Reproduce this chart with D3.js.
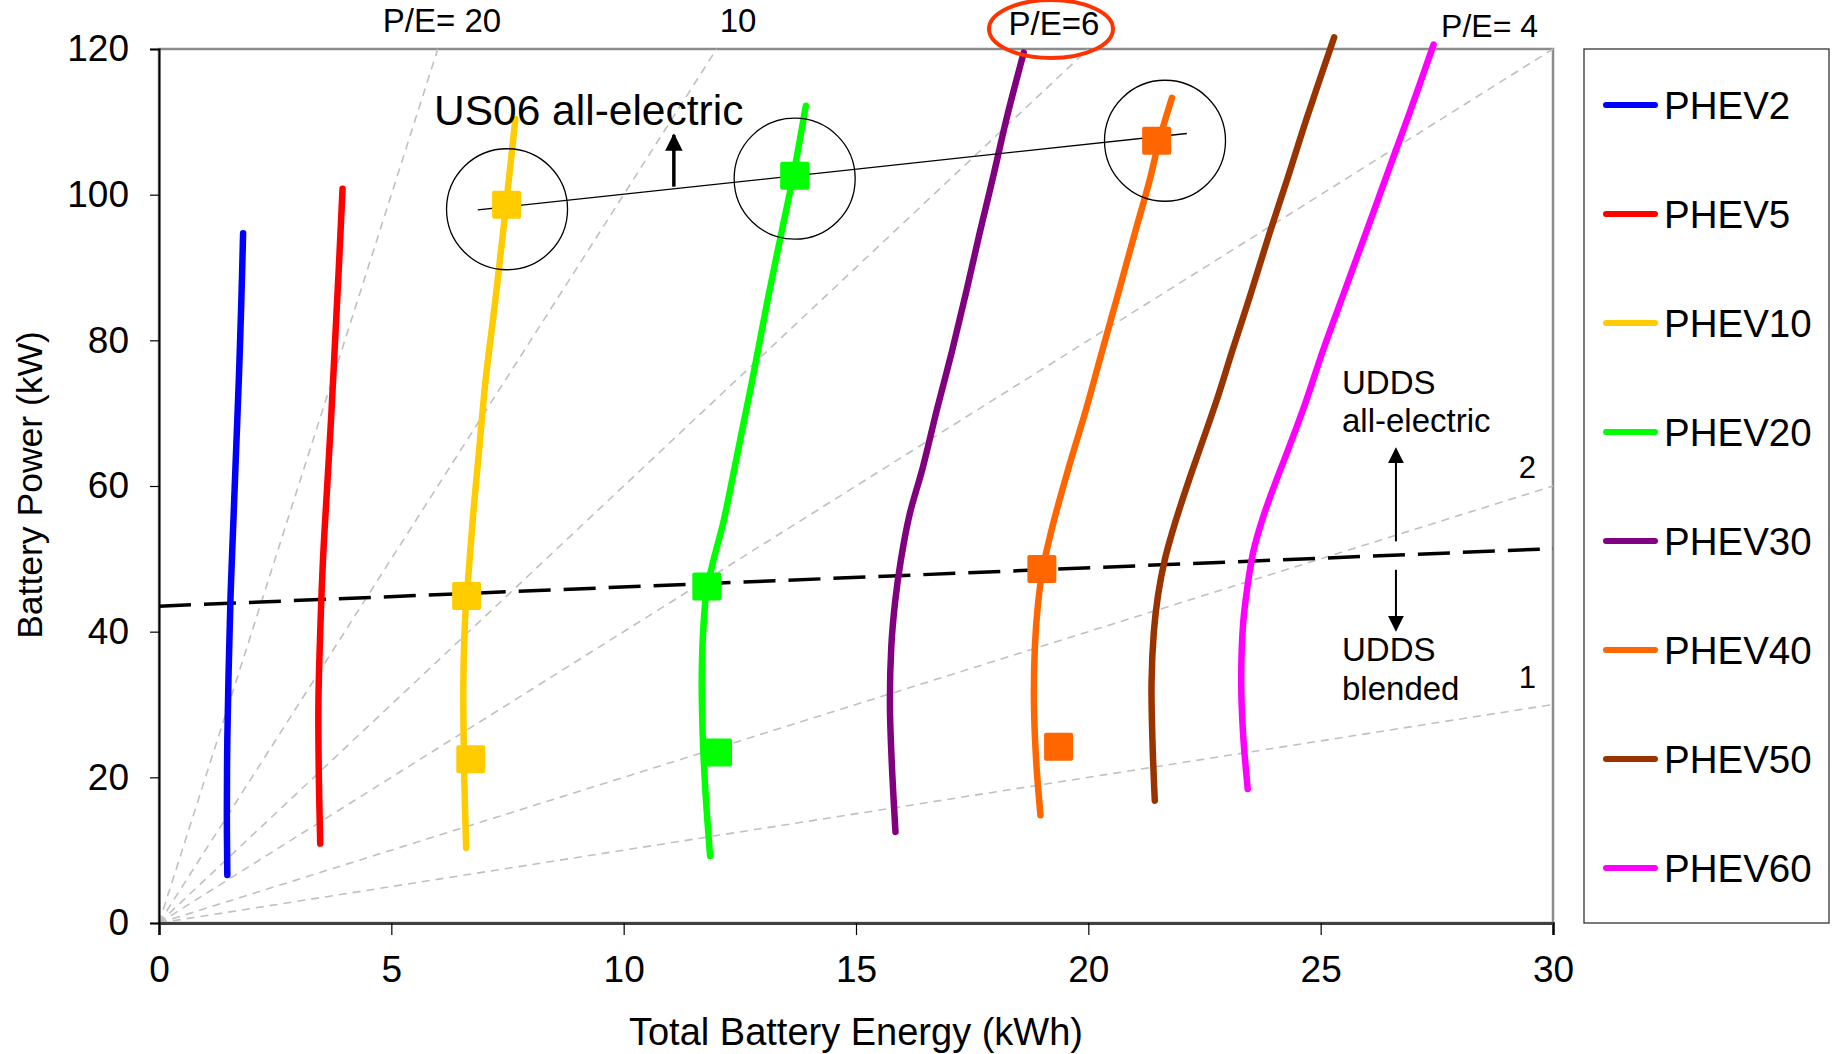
<!DOCTYPE html>
<html><head><meta charset="utf-8">
<script src="https://cdn.jsdelivr.net/npm/d3@7"></script>
<style>
body{margin:0;background:#fff}
text{font-family:"Liberation Sans",Arial,Helvetica,sans-serif;fill:#000}
</style>
</head><body><svg id="chart" width="1832" height="1054"></svg>
<script>
// ---------- DATA ----------
const seriesNames = ["PHEV2","PHEV5","PHEV10","PHEV20","PHEV30","PHEV40","PHEV50","PHEV60"];
const seriesColors = ["#0000FF","#FF0000","#FFCC00","#00FF00","#800080","#FF6600","#993300","#FF00FF"];
// [energy kWh, power kW]
const phev2  = [[1.47,6.6],[1.46,15],[1.47,25],[1.50,35],[1.54,45],[1.60,55],[1.66,65],[1.72,75],[1.77,85],[1.81,94.7]];
const phev5  = [[3.47,10.9],[3.44,20],[3.43,30],[3.47,40],[3.53,50],[3.62,60],[3.71,70],[3.79,80],[3.87,90],[3.95,100.8]];
const phev10 = [[6.61,10.3],[6.57,20],[6.55,33],[6.59,42],[6.65,47],[6.76,56],[6.89,65],[7.03,74.6],[7.24,85.6],[7.47,98.6],[7.67,110.4]];
const phev20 = [[11.86,9.2],[11.76,18],[11.70,26],[11.68,33.4],[11.71,40],[11.78,45.3],[11.92,49.5],[12.14,54.9],[12.34,61],[12.55,67.7],[12.77,74.6],[13.10,85.6],[13.37,94],[13.65,102.6],[13.92,112.2]];
const phev30 = [[15.85,12.5],[15.77,22],[15.73,30],[15.76,38],[15.84,44],[15.97,50],[16.15,56],[16.44,62.6],[16.75,70.7],[17.07,78.6],[17.37,86.6],[17.66,94.7],[17.96,102.7],[18.25,110.7],[18.61,119.5]];
const phev40 = [[18.97,14.8],[18.88,22],[18.83,30],[18.85,38],[18.92,44],[19.02,48.6],[19.25,55],[19.58,62.6],[19.95,70.5],[20.30,78.6],[20.65,86.6],[21.00,94.7],[21.32,102],[21.52,107.3],[21.80,113.3]];
const phev50 = [[21.43,16.8],[21.38,25],[21.36,33],[21.41,40],[21.50,45],[21.65,50],[21.87,55],[22.15,60.5],[22.45,66],[22.80,72.5],[23.10,78.6],[23.50,86.5],[23.90,94.7],[24.30,102.5],[24.70,110.5],[25.29,121.6]];
const phev60 = [[23.43,18.4],[23.33,26],[23.29,33],[23.33,41],[23.42,46],[23.55,51],[23.75,55.5],[24.0,60],[24.3,65],[24.65,71],[25.05,78.6],[25.5,86.5],[25.97,94.7],[26.43,102.8],[26.9,111],[27.43,120.6]];
const seriesData = [phev2,phev5,phev10,phev20,phev30,phev40,phev50,phev60];

// square markers: [energy, power, series index]
const us06Points    = [[7.48,98.6,2],[13.68,102.6,3],[21.47,107.4,5]];
const uddsAePoints  = [[6.62,44.9,2],[11.79,46.2,3],[19.0,48.6,5]];
const uddsBlPoints  = [[6.71,22.5,2],[12.02,23.4,3],[19.36,24.2,5]];
const us06Circles   = [[7.49,98.0],[13.68,102.2],[21.65,107.4]];

const peRatios = [20,10,6,4,2,1];
const uddsBoundary = [[0,43.5],[30,51.4]];
const us06Line = [[6.86,97.9],[22.12,108.4]];

const xTicks = [0,5,10,15,20,25,30];
const yTicks = [0,20,40,60,80,100,120];

// ---------- LAYOUT ----------
const L=159, R=1553, T=49, B=923;
const svg = d3.select("#chart");
svg.append("rect").attr("width",1832).attr("height",1054).attr("fill","#fff");
const x = d3.scaleLinear().domain([0,30]).range([L,R]);
const y = d3.scaleLinear().domain([0,120]).range([B,T]);

// plot frame (top/right gray)
svg.append("rect").attr("x",L).attr("y",T).attr("width",R-L).attr("height",B-T)
  .attr("fill","none").attr("stroke","#8c8c8c").attr("stroke-width",2.5);

// P/E reference lines
const pe = svg.append("g");
peRatios.forEach(k=>{
  const xe = Math.min(30, 120/k);
  pe.append("line").attr("x1",x(0)).attr("y1",y(0)).attr("x2",x(xe)).attr("y2",y(k*xe))
    .attr("stroke","#c0c0c0").attr("stroke-width",1.6).attr("stroke-dasharray","8,6");
});

// axes
const xAxis = svg.append("g").attr("transform",`translate(0,${B})`)
  .call(d3.axisBottom(x).tickValues(xTicks).tickSize(12).tickPadding(21).tickFormat(d3.format("d")));
const yAxis = svg.append("g").attr("transform",`translate(${L},0)`)
  .call(d3.axisLeft(y).tickValues(yTicks).tickSize(9).tickPadding(21).tickFormat(d3.format("d")));
[xAxis,yAxis].forEach(g=>{
  g.selectAll("text").attr("font-size",37).attr("font-family","Liberation Sans, Arial, sans-serif").attr("fill","#000");
  g.selectAll(".tick line").attr("stroke","#000").attr("stroke-width",1.2);
});
xAxis.select(".domain").attr("stroke","#404040").attr("stroke-width",3);
yAxis.select(".domain").attr("stroke","#000").attr("stroke-width",2);

// axis titles
svg.append("text").attr("x",856).attr("y",1045).attr("text-anchor","middle")
  .attr("font-size",38).text("Total Battery Energy (kWh)");
svg.append("text").attr("transform","translate(42,485) rotate(-90)").attr("text-anchor","middle")
  .attr("font-size",35.5).text("Battery Power (kW)");

// UDDS boundary (black dashed)
svg.append("line").attr("x1",x(uddsBoundary[0][0])).attr("y1",y(uddsBoundary[0][1]))
  .attr("x2",x(uddsBoundary[1][0])).attr("y2",y(uddsBoundary[1][1]))
  .attr("stroke","#000").attr("stroke-width",3.5).attr("stroke-dasharray","32,13");

// series lines
const lineGen = d3.line().x(d=>x(d[0])).y(d=>y(d[1])).curve(d3.curveCatmullRom.alpha(0.5));
seriesData.forEach((s,i)=>{
  svg.append("path").attr("d",lineGen(s)).attr("fill","none")
    .attr("stroke",seriesColors[i]).attr("stroke-width",6.5)
    .attr("stroke-linecap","round").attr("stroke-linejoin","round");
});

// US06 thin line
svg.append("line").attr("x1",x(us06Line[0][0])).attr("y1",y(us06Line[0][1]))
  .attr("x2",x(us06Line[1][0])).attr("y2",y(us06Line[1][1]))
  .attr("stroke","#000").attr("stroke-width",1.3);

// markers
const ms = 29, mh = 28;
[us06Points, uddsAePoints, uddsBlPoints].forEach(arr=>{
  arr.forEach(p=>{
    svg.append("rect").attr("x",x(p[0])-ms/2).attr("y",y(p[1])-mh/2)
      .attr("width",ms).attr("height",mh).attr("rx",2)
      .attr("fill",seriesColors[p[2]]);
  });
});

// circles around US06 points
us06Circles.forEach(c=>{
  svg.append("circle").attr("cx",x(c[0])).attr("cy",y(c[1])).attr("r",60.5)
    .attr("fill","none").attr("stroke","#000").attr("stroke-width",1.3);
});

// arrows
const defs = svg.append("defs");
defs.append("marker").attr("id","ah").attr("viewBox","0 0 10 10").attr("refX",9).attr("refY",5)
  .attr("markerWidth",5).attr("markerHeight",5).attr("markerUnits","strokeWidth").attr("orient","auto")
  .append("path").attr("d","M0,0 L10,5 L0,10 Z").attr("fill","#000");
defs.append("marker").attr("id","ah2").attr("viewBox","0 0 10 10").attr("refX",9).attr("refY",5)
  .attr("markerWidth",8).attr("markerHeight",8).attr("markerUnits","strokeWidth").attr("orient","auto")
  .append("path").attr("d","M0,0 L10,5 L0,10 Z").attr("fill","#000");
function arrow(x0,y0,x1,y1,w,m){
  svg.append("line").attr("x1",x(x0)).attr("y1",y(y0)).attr("x2",x(x1)).attr("y2",y(y1))
    .attr("stroke","#000").attr("stroke-width",w).attr("marker-end",`url(#${m})`);
}
arrow(11.08,101.1,11.08,108.2,3.5,"ah");
arrow(26.62,52.4,26.62,65.1,2,"ah2");
arrow(26.62,48.5,26.62,40.2,2,"ah2");

// text annotations
svg.append("text").attr("x",434).attr("y",125).attr("font-size",42.5).text("US06 all-electric");
svg.append("text").attr("x",1342).attr("y",394).attr("font-size",33).text("UDDS");
svg.append("text").attr("x",1342).attr("y",432).attr("font-size",33).text("all-electric");
svg.append("text").attr("x",1342).attr("y",661).attr("font-size",33).text("UDDS");
svg.append("text").attr("x",1342).attr("y",700).attr("font-size",33).text("blended");
svg.append("text").attr("x",1536).attr("y",478).attr("text-anchor","end").attr("font-size",31).text("2");
svg.append("text").attr("x",1536).attr("y",688).attr("text-anchor","end").attr("font-size",31).text("1");

svg.append("text").attr("x",442).attr("y",32).attr("text-anchor","middle").attr("font-size",33).text("P/E= 20");
svg.append("text").attr("x",738).attr("y",32).attr("text-anchor","middle").attr("font-size",33).text("10");
svg.append("text").attr("x",1054).attr("y",35).attr("text-anchor","middle").attr("font-size",33).text("P/E=6");
svg.append("text").attr("x",1538).attr("y",37).attr("text-anchor","end").attr("font-size",32).text("P/E= 4");
svg.append("ellipse").attr("cx",1051).attr("cy",29).attr("rx",62).attr("ry",29)
  .attr("fill","none").attr("stroke","#FF3300").attr("stroke-width",4);

// legend
const lg = svg.append("g");
lg.append("rect").attr("x",1584).attr("y",49).attr("width",245).attr("height",874)
  .attr("fill","#fff").attr("stroke","#333").attr("stroke-width",1.3);
seriesNames.forEach((n,i)=>{
  const yy = 105 + i*109;
  lg.append("line").attr("x1",1606).attr("x2",1655).attr("y1",yy).attr("y2",yy)
    .attr("stroke",seriesColors[i]).attr("stroke-width",6).attr("stroke-linecap","round");
  lg.append("text").attr("x",1664).attr("y",yy).attr("dy","0.36em").attr("font-size",38.5).text(n);
});
</script>
</body></html>
